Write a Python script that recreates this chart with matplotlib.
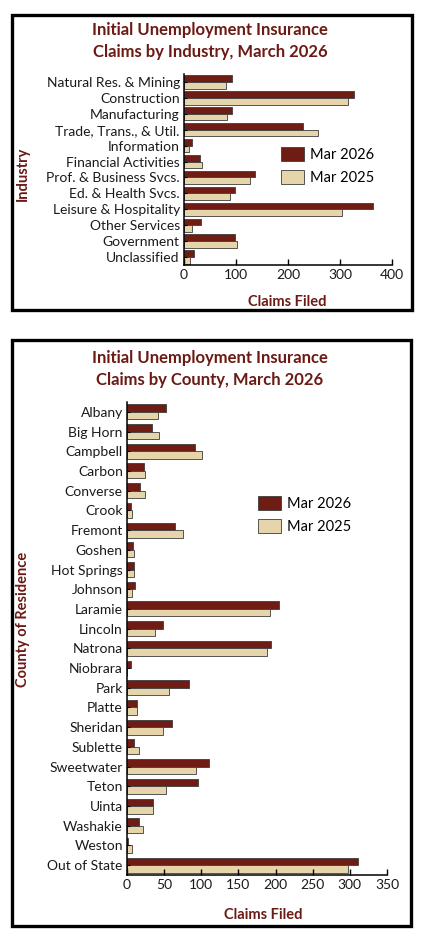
import matplotlib.pyplot as plt
import matplotlib.patches as patches
import numpy as np

plt.rcParams['font.family'] = ['Lato', 'DejaVu Sans']

# Industry data
industries = ['Natural Res. & Mining', 'Construction', 'Manufacturing',
              'Trade, Trans., & Util.', 'Information', 'Financial Activities',
              'Prof. & Business Svcs.', 'Ed. & Health Svcs.', 'Leisure & Hospitality',
              'Other Services', 'Government', 'Unclassified']
ind_2026 = [92, 326, 92, 228, 15, 31, 137, 98, 363, 32, 99, 19]
ind_2025 = [81, 316, 83, 257, 10, 35, 126, 89, 303, 16, 102, 12]

# County data
counties = ['Albany', 'Big Horn', 'Campbell', 'Carbon', 'Converse', 'Crook',
            'Fremont', 'Goshen', 'Hot Springs', 'Johnson', 'Laramie', 'Lincoln',
            'Natrona', 'Niobrara', 'Park', 'Platte', 'Sheridan', 'Sublette',
            'Sweetwater', 'Teton', 'Uinta', 'Washakie', 'Weston', 'Out of State']
cty_2026 = [53, 34, 92, 23, 17, 5, 64, 8, 9, 11, 204, 48,
            194, 5, 83, 14, 61, 9, 111, 95, 35, 16, 2, 311]
cty_2025 = [42, 43, 101, 24, 24, 7, 75, 9, 10, 7, 192, 38,
            189, 0, 57, 14, 48, 16, 93, 52, 35, 22, 7, 298]

DARK = '#6E1C14'
TAN = '#E6D5AA'
TITLE = '#6B1A14'
EDGE = '#3c3c3c'

W, H = 425, 941
fig = plt.figure(figsize=(W / 100, H / 100), dpi=100)


def fx(px):
    return px / W


def fy(py):
    return 1 - py / H


def draw_panel(rect, cats, v_new, v_old, bar_h, xmax, xstep, titles, title_ys,
               ylabel, ylab_xy, xlab_xy, leg_xy, fontsize):
    left, top, right, bottom = rect
    ax = fig.add_axes([fx(left), fy(bottom), fx(right - left), (bottom - top) / H])
    y = np.arange(len(cats))
    ax.barh(y - bar_h / 2, v_new, height=bar_h, color=DARK, edgecolor=EDGE,
            linewidth=0.6, label='Mar 2026', zorder=2)
    ax.barh(y + bar_h / 2, v_old, height=bar_h, color=TAN, edgecolor=EDGE,
            linewidth=0.6, label='Mar 2025', zorder=2)
    ax.set_ylim(len(cats) - 0.5, -0.5)
    ax.set_xlim(0, xmax)
    ax.set_xticks(np.arange(0, xmax + 1, xstep))
    ax.set_yticks(y)
    ax.set_yticklabels(cats, fontsize=fontsize, color='#1a1a1a')
    ax.tick_params(axis='x', direction='in', length=4, width=1, labelsize=fontsize,
                   labelcolor='#1a1a1a', pad=3)
    ax.tick_params(axis='y', direction='in', length=2, width=0.8, pad=3)
    ax.set_axisbelow(False)
    for s in ['top', 'right']:
        ax.spines[s].set_visible(False)
    for s in ['left', 'bottom']:
        ax.spines[s].set_linewidth(1.1)
        ax.spines[s].set_zorder(3)
    ax.set_xlabel('Claims Filed', fontsize=10.5, fontweight='bold', color=TITLE)
    ax.xaxis.set_label_coords(*xlab_xy)
    ax.set_ylabel(ylabel, fontsize=10.5, fontweight='bold', color=TITLE)
    ax.yaxis.set_label_coords(*ylab_xy)
    ax.legend(loc='upper left', bbox_to_anchor=(fx(leg_xy[0]), fy(leg_xy[1])),
              bbox_transform=fig.transFigure, frameon=False, fontsize=10.5,
              borderpad=0, borderaxespad=0, handlelength=1.6, handleheight=1.1,
              handletextpad=0.4, labelspacing=0.55)
    for t, ty in zip(titles, title_ys):
        fig.text(0.494, fy(ty), t, ha='center', va='center', fontsize=12,
                 fontweight='bold', color=TITLE)
    return ax


# panel borders
fig.patches.append(patches.Rectangle((fx(11.5), fy(310)), fx(400), 295 / H,
                                     transform=fig.transFigure, fill=False,
                                     edgecolor='black', linewidth=2.4))
fig.patches.append(patches.Rectangle((fx(11.5), fy(926)), fx(399), 586 / H,
                                     transform=fig.transFigure, fill=False,
                                     edgecolor='black', linewidth=2.4))

draw_panel((184, 74, 392, 265), industries, ind_2026, ind_2025, 0.42, 400, 100,
           ['Initial Unemployment Insurance', 'Claims by Industry, March 2026'],
           [30, 52], 'Industry', (-0.74, 0.476), (0.495, -0.157), (281, 147), 10)

draw_panel((127, 402, 387, 875), counties, cty_2026, cty_2025, 0.38, 350, 50,
           ['Initial Unemployment Insurance', 'Claims by County, March 2026'],
           [358, 380], 'County of Residence', (-0.373, 0.54), (0.523, -0.07),
           (258, 496), 10)

fig.savefig('out.png', dpi=100)
